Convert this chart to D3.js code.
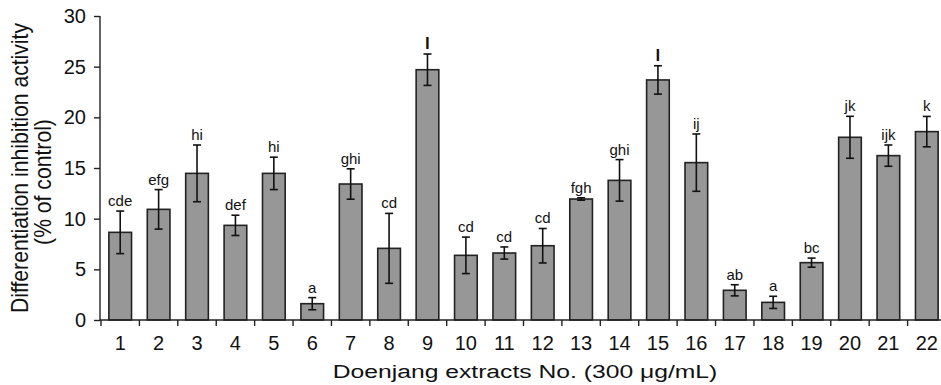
<!DOCTYPE html>
<html>
<head>
<meta charset="utf-8">
<script src="https://cdn.jsdelivr.net/npm/d3@7"></script>
<style>
  body { margin: 0; background: #fff; }
  text { font-family: "Liberation Sans", Arial, sans-serif; fill: #111; }
</style>
</head>
<body>
<svg id="chart" width="941" height="385"></svg>
<script>
// data
const extracts = ["1","2","3","4","5","6","7","8","9","10","11","12","13","14","15","16","17","18","19","20","21","22"];
const activity = [8.65, 10.92, 14.47, 9.34, 14.47, 1.61, 13.42, 7.07, 24.7, 6.38, 6.61, 7.33, 11.94, 13.78, 23.69, 15.53, 2.93, 1.74, 5.66, 18.03, 16.22, 18.59];
const errors   = [2.1, 1.95, 2.8, 1.0, 1.6, 0.6, 1.5, 3.45, 1.55, 1.8, 0.6, 1.7, 0.12, 2.05, 1.4, 2.83, 0.55, 0.6, 0.45, 2.07, 1.05, 1.5];
const groups   = ["cde","efg","hi","def","hi","a","ghi","cd","l","cd","cd","cd","fgh","ghi","l","ij","ab","a","bc","jk","ijk","k"];
const yTicks = [0, 5, 10, 15, 20, 25, 30];

const svg = d3.select("#chart");
const plotLeft = 100, plotTop = 16, plotBottom = 320;

const x = d3.scaleBand()
  .domain(extracts)
  .range([101, 946])
  .paddingInner(0.41)
  .paddingOuter(0.205);

const y = d3.scaleLinear()
  .domain([0, 30])
  .range([plotBottom, plotTop]);

// bars
svg.selectAll("rect.bar")
  .data(activity)
  .enter()
  .append("rect")
  .attr("class", "bar")
  .attr("x", (d, i) => x(extracts[i]))
  .attr("width", x.bandwidth())
  .attr("y", d => y(d))
  .attr("height", d => y(0) - y(d))
  .attr("fill", "#979797")
  .attr("stroke", "#222")
  .attr("stroke-width", 1.6);

// error bars
const cx = i => x(extracts[i]) + x.bandwidth() / 2;
const eb = svg.append("g").attr("stroke", "#111").attr("stroke-width", 1.6);
activity.forEach((v, i) => {
  const hi = y(v + errors[i]), lo = y(v - errors[i]);
  eb.append("line").attr("x1", cx(i)).attr("x2", cx(i)).attr("y1", hi).attr("y2", lo);
  eb.append("line").attr("x1", cx(i) - 4).attr("x2", cx(i) + 4).attr("y1", hi).attr("y2", hi);
  eb.append("line").attr("x1", cx(i) - 4).attr("x2", cx(i) + 4).attr("y1", lo).attr("y2", lo);
});

// significance letters
svg.selectAll("text.grp")
  .data(groups)
  .enter()
  .append("text")
  .attr("class", "grp")
  .attr("x", (d, i) => cx(i))
  .attr("y", (d, i) => y(activity[i] + errors[i]) - 5)
  .attr("text-anchor", "middle")
  .style("font-size", d => d === "l" ? "17px" : "15px")
  .style("font-weight", d => d === "l" ? "bold" : "normal")
  .text(d => d);

// y axis
const yAxis = svg.append("g")
  .attr("transform", "translate(" + plotLeft + ",0)")
  .call(d3.axisLeft(y).tickValues(yTicks).tickSize(6).tickPadding(8).tickFormat(d3.format("d")));
yAxis.selectAll("text").style("font-size", "20px");
yAxis.selectAll("line, path").attr("stroke", "#222").attr("stroke-width", 1.4);
yAxis.select(".domain").attr("d", "M0," + plotTop + "V" + plotBottom);

// x axis: line plus ticks between categories
const xg = svg.append("g").attr("stroke", "#222").attr("stroke-width", 1.4);
xg.append("line").attr("x1", plotLeft).attr("x2", 941).attr("y1", plotBottom).attr("y2", plotBottom);
const step = x.step();
extracts.forEach(c => {
  const bx = x(c) - x.paddingOuter() * step;
  xg.append("line").attr("x1", bx).attr("x2", bx).attr("y1", plotBottom).attr("y2", plotBottom + 6);
});
svg.selectAll("text.xl")
  .data(extracts)
  .enter()
  .append("text")
  .attr("class", "xl")
  .attr("x", d => x(d) + x.bandwidth() / 2)
  .attr("y", 350)
  .attr("text-anchor", "middle")
  .style("font-size", "20px")
  .text(d => d);

// axis titles: the figure's lettering is stretched sideways a little
const stretch = 1.15;
const yt1 = svg.append("text")
  .attr("transform", "translate(28,168) scale(" + stretch + ",1) rotate(-90)")
  .attr("text-anchor", "middle")
  .style("font-size", "20px")
  .text("Differentiation inhibition activity");
const ySize = (20 * 290 / yt1.node().getComputedTextLength()).toFixed(2) + "px";
yt1.style("font-size", ySize);
svg.append("text")
  .attr("transform", "translate(51,182) scale(" + stretch + ",1) rotate(-90)")
  .attr("text-anchor", "middle")
  .style("font-size", ySize)
  .text("(% of control)");

const xt = svg.append("text")
  .attr("text-anchor", "middle")
  .style("font-size", "19px")
  .text("Doenjang extracts No. (300 \u03bcg/mL)");
const xLen = xt.node().getComputedTextLength();
xt.attr("transform", "translate(525,378) scale(" + (385 / xLen).toFixed(3) + ",1)");
</script>
</body>
</html>
